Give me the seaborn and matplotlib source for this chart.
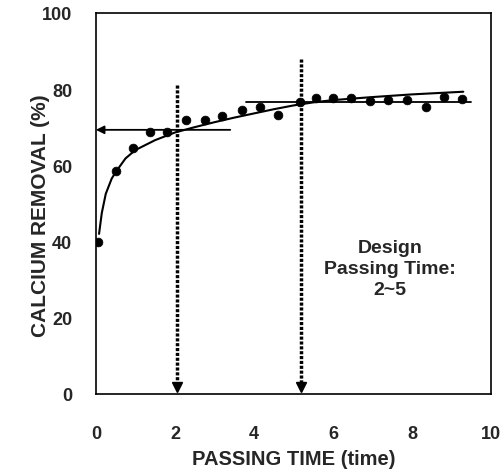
import matplotlib
matplotlib.use("Agg")
import matplotlib.pyplot as plt
import seaborn as sns
import pandas as pd
import numpy as np

# measured points
time_obs = [0.05, 0.5, 0.93, 1.38, 1.8, 2.28, 2.76, 3.2, 3.69, 4.16, 4.61,
            5.16, 5.56, 6.0, 6.47, 6.93, 7.4, 7.88, 8.35, 8.8, 9.27]
removal_obs = [40.0, 58.5, 64.5, 68.8, 68.8, 72.0, 72.0, 73.0, 74.5, 75.3, 73.2,
               76.5, 77.6, 77.6, 77.6, 76.9, 77.0, 77.0, 75.3, 78.0, 77.4]

# fitted curve (traced)
time_fit = [0.08, 0.15, 0.25, 0.4, 0.5, 0.75, 1.0, 1.5, 2.0, 2.5, 3.0, 3.5,
            4.0, 4.5, 5.0, 5.5, 6.0, 7.0, 8.0, 9.3]
removal_fit = [42.0, 47.5, 52.5, 56.5, 58.2, 61.8, 64.0, 66.6, 68.6, 70.0, 71.3,
               72.5, 73.6, 74.7, 75.7, 76.5, 77.1, 77.9, 78.6, 79.3]

# plateau line and design markers
plateau_x = [3.8, 9.5]
plateau_y = [76.7, 76.7]
left_arrow_x = [3.4, 0.0]
left_arrow_y = 69.3
design_x = [2.05, 5.2]
design_top = [81, 88]

df_obs = pd.DataFrame({"time": time_obs, "removal": removal_obs})
df_fit = pd.DataFrame({"time": time_fit, "removal": removal_fit})

sns.set_style("white")
plt.rcParams["font.family"] = ["Liberation Sans", "DejaVu Sans"]
plt.rcParams["font.weight"] = "bold"

fig = plt.figure(figsize=(5.02, 4.77), dpi=100)
ax = fig.add_axes([0.191, 0.172, 0.787, 0.799])

sns.lineplot(data=df_fit, x="time", y="removal", ax=ax, color="black",
             linewidth=1.5, sort=False)
sns.scatterplot(data=df_obs, x="time", y="removal", ax=ax, color="black",
                s=40, edgecolor="black", zorder=5)

ax.plot(plateau_x, plateau_y, color="black", linewidth=1.3)
ax.annotate("", xy=(left_arrow_x[1], left_arrow_y),
            xytext=(left_arrow_x[0], left_arrow_y),
            arrowprops=dict(arrowstyle="-|>", color="black", lw=1.3,
                            mutation_scale=12, shrinkA=0, shrinkB=0))

for xv, top in zip(design_x, design_top):
    ax.plot([xv, xv], [top, 2.5], color="black", linewidth=2.5,
            linestyle=(0, (0.9, 0.5)))
    ax.plot([xv], [1.8], marker="v", color="black", markersize=7)

ax.text(7.45, 33, "Design\nPassing Time:\n2~5", ha="center", va="center",
        fontsize=14, fontweight="bold", linespacing=1.3)

ax.set_xlim(0, 10)
ax.set_ylim(0, 100)
ax.set_xticks([0, 2, 4, 6, 8, 10])
ax.set_yticks([0, 20, 40, 60, 80, 100])
ax.tick_params(axis="both", length=0, labelsize=13)
ax.tick_params(axis="x", pad=22)
ax.tick_params(axis="y", pad=17)
for lab in ax.get_xticklabels() + ax.get_yticklabels():
    lab.set_fontweight("bold")

ax.set_xlabel("PASSING TIME (time)", fontsize=14.5, fontweight="bold")
ax.set_ylabel("CALCIUM REMOVAL (%)", fontsize=15, fontweight="bold")
ax.xaxis.set_label_coords(0.5, -0.17)
ax.yaxis.set_label_coords(-0.14, 0.47)
ax.xaxis.label.set_va("center")
ax.yaxis.label.set_va("center")

for spine in ax.spines.values():
    spine.set_color("black")
    spine.set_linewidth(1.2)

fig.savefig("out.png", dpi=100)
